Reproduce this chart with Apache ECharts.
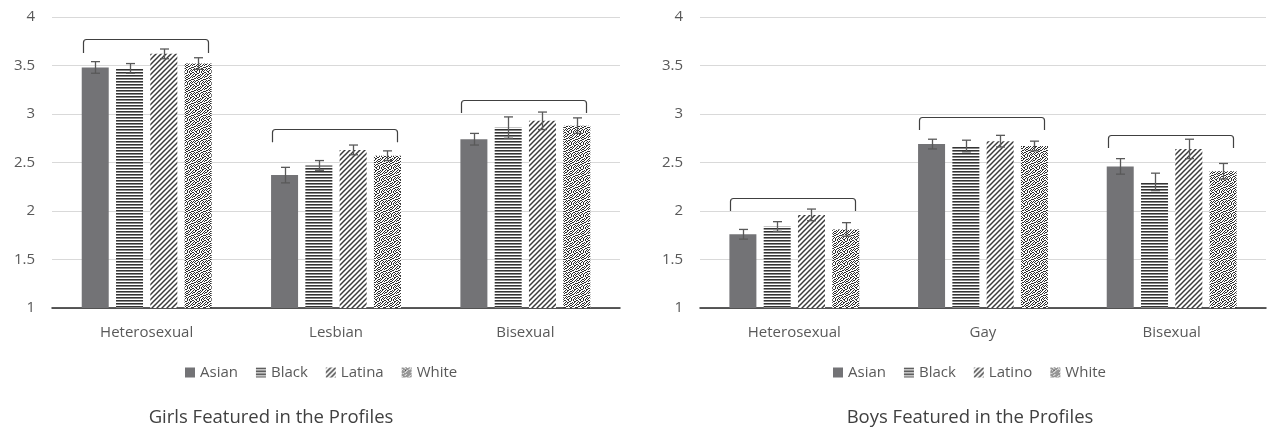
<!DOCTYPE html>
<html>
<head>
<meta charset="utf-8">
<script src="https://cdn.jsdelivr.net/npm/echarts@6/dist/echarts.min.js"></script>
<style>
  html, body { margin: 0; padding: 0; background: #fff; }
  #chart { width: 1271px; height: 435px; }
</style>
</head>
<body>
<div id="chart"></div>
<script>
// Mean ratings with standard-error bars, girls and boys profiles
const categoriesGirls = ['Heterosexual', 'Lesbian', 'Bisexual'];
const categoriesBoys = ['Heterosexual', 'Gay', 'Bisexual'];
const groupsGirls = ['Asian', 'Black', 'Latina', 'White'];
const groupsBoys = ['Asian', 'Black', 'Latino', 'White'];
const yTicks = [1, 1.5, 2, 2.5, 3, 3.5, 4];

const girlsAsian = [3.48, 2.37, 2.74];
const girlsBlack = [3.47, 2.47, 2.86];
const girlsLatina = [3.62, 2.63, 2.93];
const girlsWhite = [3.52, 2.57, 2.88];
const girlsAsianErr = [0.06, 0.08, 0.06];
const girlsBlackErr = [0.05, 0.05, 0.11];
const girlsLatinaErr = [0.05, 0.05, 0.09];
const girlsWhiteErr = [0.06, 0.05, 0.08];
const girlsBracketTop = [3.77, 2.85, 3.14];
const girlsBracketBottom = [3.63, 2.71, 3.01];

const boysAsian = [1.76, 2.69, 2.46];
const boysBlack = [1.84, 2.67, 2.30];
const boysLatino = [1.96, 2.72, 2.64];
const boysWhite = [1.81, 2.67, 2.41];
const boysAsianErr = [0.05, 0.05, 0.08];
const boysBlackErr = [0.05, 0.06, 0.09];
const boysLatinoErr = [0.06, 0.06, 0.10];
const boysWhiteErr = [0.07, 0.05, 0.08];
const boysBracketTop = [2.13, 2.97, 2.78];
const boysBracketBottom = [2.00, 2.835, 2.65];

const titleGirls = 'Girls Featured in the Profiles';
const titleBoys = 'Boys Featured in the Profiles';

// ---- fill patterns ----
function makeTile(w, h, draw) {
  const c = document.createElement('canvas');
  c.width = w; c.height = h;
  const ctx = c.getContext('2d');
  ctx.fillStyle = '#ffffff';
  ctx.fillRect(0, 0, w, h);
  draw(ctx);
  return c;
}
const horizTile = makeTile(4, 3, ctx => {
  ctx.fillStyle = '#333333';
  ctx.fillRect(0, 0, 4, 1);
  ctx.fillStyle = '#8a8a8a';
  ctx.fillRect(0, 1, 4, 1);
});
const diagTile = makeTile(5, 5, ctx => {
  ctx.strokeStyle = '#3a3a3a';
  ctx.lineWidth = 1.5;
  for (let k = -1; k <= 1; k++) {
    ctx.beginPath();
    ctx.moveTo(k * 5 - 1, 6);
    ctx.lineTo(k * 5 + 6, -1);
    ctx.stroke();
  }
});
// confetti-like speckle tile
const dotRows = [
  '110010010100',
  '001001100011',
  '010110001010',
  '100100110100',
  '011001001001',
  '100010110010',
  '001101001100',
  '110000110001',
  '001011000110',
  '010100101001',
  '101001010010',
  '000110010101'
];
const dotTile = makeTile(12, 12, ctx => {
  ctx.fillStyle = '#2e2e2e';
  dotRows.forEach((row, y) => {
    for (let x = 0; x < row.length; x++) if (row[x] === '1') ctx.fillRect(x, y, 1, 1);
  });
});
const fills = [
  '#737376',
  { image: horizTile, repeat: 'repeat' },
  { image: diagTile, repeat: 'repeat' },
  { image: dotTile, repeat: 'repeat' }
];

// ---- bar layout ----
const BAR_W = 27;
const BAR_GAP = BAR_W * 0.27;
const GROUP_W = 4 * BAR_W + 3 * BAR_GAP;
function barOffset(i) {
  return -GROUP_W / 2 + i * (BAR_W + BAR_GAP) + BAR_W / 2;
}

const textColor = '#595959';
const font = 'Open Sans';

function errorRenderer(pos) {
  return function (params, api) {
    const ci = api.value(0), v = api.value(1), e = api.value(2);
    const x = Math.round(api.coord([ci, v])[0] + barOffset(pos)) + 0.5;
    const yHi = api.coord([ci, v + e])[1];
    const yLo = api.coord([ci, v - e])[1];
    const style = { stroke: '#595959', lineWidth: 1.3 };
    return {
      type: 'group',
      children: [
        { type: 'line', shape: { x1: x, y1: yHi, x2: x, y2: yLo }, style },
        { type: 'line', shape: { x1: x - 4.5, y1: yHi, x2: x + 4.5, y2: yHi }, style },
        { type: 'line', shape: { x1: x - 4.5, y1: yLo, x2: x + 4.5, y2: yLo }, style }
      ]
    };
  };
}

function bracketRender(params, api) {
  const ci = api.value(0);
  const c = api.coord([ci, api.value(1)]);
  const yTop = Math.round(c[1]) + 0.5;
  const yBot = api.coord([ci, api.value(2)])[1];
  const x0 = Math.round(c[0] - GROUP_W / 2 + 1) + 0.5;
  const x1 = Math.round(c[0] + GROUP_W / 2 - 4) + 0.5;
  const r = 3;
  const d = `M${x0} ${yBot} L${x0} ${yTop + r} Q${x0} ${yTop} ${x0 + r} ${yTop} ` +
            `L${x1 - r} ${yTop} Q${x1} ${yTop} ${x1} ${yTop + r} L${x1} ${yBot}`;
  return {
    type: 'path',
    shape: { pathData: d },
    style: { stroke: '#404040', lineWidth: 1.2, fill: null }
  };
}

function panel(idx, values, errors, names, bracketTop, bracketBottom) {
  const series = [];
  values.forEach((vals, i) => {
    series.push({
      type: 'bar',
      name: names[i],
      xAxisIndex: idx, yAxisIndex: idx,
      data: vals,
      barWidth: BAR_W,
      barGap: '27%',
      itemStyle: { color: fills[i] },
      z: 2
    });
  });
  values.forEach((vals, i) => {
    series.push({
      type: 'custom',
      name: names[i] + ' error',
      xAxisIndex: idx, yAxisIndex: idx,
      data: vals.map((v, k) => [k, v, errors[i][k]]),
      encode: { x: 0, y: 1 },
      renderItem: errorRenderer(i),
      silent: true,
      z: 5
    });
  });
  series.push({
    type: 'custom',
    name: 'bracket',
    xAxisIndex: idx, yAxisIndex: idx,
    data: bracketTop.map((t, k) => [k, t, bracketBottom[k]]),
    encode: { x: 0, y: 1 },
    renderItem: bracketRender,
    silent: true,
    z: 5
  });
  return series;
}

function xAxisFor(idx, cats) {
  return {
    type: 'category', gridIndex: idx, data: cats,
    axisTick: { show: false },
    axisLine: { lineStyle: { color: '#262626', width: 1.5 } },
    axisLabel: { color: textColor, fontFamily: font, fontSize: 15, margin: 17 }
  };
}
function yAxisFor(idx) {
  return {
    type: 'value', gridIndex: idx,
    min: yTicks[0], max: yTicks[yTicks.length - 1], interval: 0.5,
    axisLine: { show: false }, axisTick: { show: false },
    splitLine: { lineStyle: { color: '#d9d9d9', width: 1 } },
    axisLabel: { color: textColor, fontFamily: font, fontSize: 15, margin: 17 }
  };
}

const legendBase = {
  icon: 'rect', itemWidth: 10, itemHeight: 10, itemGap: 18,
  top: 365, padding: 0,
  textStyle: { color: textColor, fontFamily: font, fontSize: 15 },
  selectedMode: false
};

const chart = echarts.init(document.getElementById('chart'), null, { renderer: 'canvas' });
chart.setOption({
  animation: false,
  backgroundColor: '#ffffff',
  grid: [
    { left: 52, top: 17, width: 568, height: 291 },
    { left: 700, top: 17, width: 566, height: 291 }
  ],
  xAxis: [xAxisFor(0, categoriesGirls), xAxisFor(1, categoriesBoys)],
  yAxis: [yAxisFor(0), yAxisFor(1)],
  legend: [
    Object.assign({ left: 185, data: groupsGirls }, legendBase),
    Object.assign({ left: 833, data: groupsBoys }, legendBase)
  ],
  graphic: [
    { type: 'text', x: 271, y: 418, style: { text: titleGirls, align: 'center', verticalAlign: 'middle', fill: '#404040', font: '18.5px "Open Sans"' } },
    { type: 'text', x: 970, y: 418, style: { text: titleBoys, align: 'center', verticalAlign: 'middle', fill: '#404040', font: '18.5px "Open Sans"' } }
  ],
  series: [
    ...panel(0,
      [girlsAsian, girlsBlack, girlsLatina, girlsWhite],
      [girlsAsianErr, girlsBlackErr, girlsLatinaErr, girlsWhiteErr],
      groupsGirls, girlsBracketTop, girlsBracketBottom),
    ...panel(1,
      [boysAsian, boysBlack, boysLatino, boysWhite],
      [boysAsianErr, boysBlackErr, boysLatinoErr, boysWhiteErr],
      groupsBoys, boysBracketTop, boysBracketBottom)
  ]
});
</script>
</body>
</html>
